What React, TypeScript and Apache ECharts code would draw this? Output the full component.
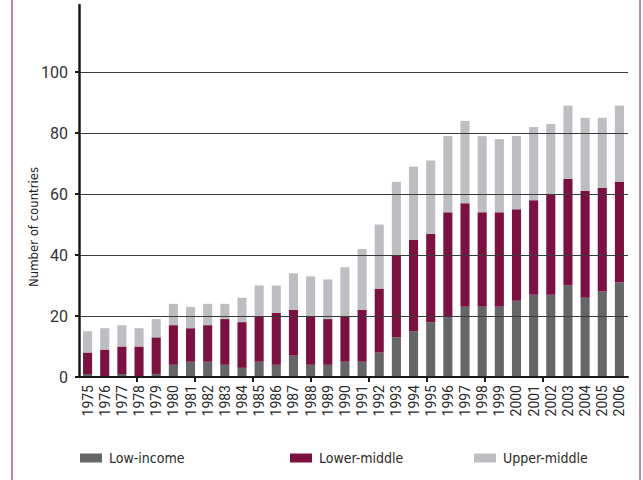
import React, { useEffect, useRef } from "react";
import * as echarts from "echarts";

const years = [
  "1975", "1976", "1977", "1978", "1979", "1980", "1981", "1982", "1983", "1984",
  "1985", "1986", "1987", "1988", "1989", "1990", "1991", "1992", "1993", "1994",
  "1995", "1996", "1997", "1998", "1999", "2000", "2001", "2002", "2003", "2004",
  "2005", "2006",
];
const lowIncome = [1, 0, 1, 0, 1, 4, 5, 5, 4, 3, 5, 4, 7, 4, 4, 5, 5, 8, 13, 15, 18, 20, 23, 23, 23, 25, 27, 27, 30, 26, 28, 31];
const lowerMiddle = [7, 9, 9, 10, 12, 13, 11, 12, 15, 15, 15, 17, 15, 16, 15, 15, 17, 21, 27, 30, 29, 34, 34, 31, 31, 30, 31, 33, 35, 35, 34, 33];
const upperMiddle = [7, 7, 7, 6, 6, 7, 7, 7, 5, 8, 10, 9, 12, 13, 13, 16, 20, 21, 24, 24, 24, 25, 27, 25, 24, 24, 24, 23, 24, 24, 23, 25];
const yTicks = [0, 20, 40, 60, 80, 100];
const xTickMarks = [10.565, 21.13, 31.695, 42.26, 52.825, 63.39, 73.955, 84.52];

const COND = '"Liberation Sans Narrow", "DejaVu Sans Condensed", sans-serif';

export default function App() {
  const ref = useRef<HTMLDivElement>(null);
  useEffect(() => {
    if (!ref.current) return;
    const chart = echarts.init(ref.current, null, { renderer: "svg" });
    const barCommon = { type: "bar", stack: "all", barCategoryGap: "47%", xAxisIndex: 0, yAxisIndex: 0 };
    chart.setOption({
      animation: false,
      backgroundColor: "#ffffff",
      grid: { left: 79, right: 15, top: 5, bottom: 103, containLabel: false },
      legend: [
        { data: ["Low-income"], left: 80, top: 451 },
        { data: ["Lower-middle"], left: 290, top: 451 },
        { data: ["Upper-middle"], left: 474, top: 451 },
      ].map((l) => ({
        ...l,
        padding: 0,
        icon: "rect",
        itemWidth: 22,
        itemHeight: 9,
        itemGap: 0,
        textStyle: { fontFamily: COND, fontSize: 14, color: "#2a2a2a", padding: [0, 0, 0, 2] },
      })),
      xAxis: [
        {
          type: "category",
          data: years,
          position: "bottom",
          z: 10,
          axisLine: { show: true, lineStyle: { color: "#1a1a1a", width: 2 } },
          axisTick: { show: false },
          axisLabel: {
            rotate: 90,
            interval: 0,
            margin: 8,
            fontFamily: "Roboto, sans-serif",
            fontSize: 14,
            color: "#2a2a2a",
          },
          splitLine: { show: false },
        },
        {
          type: "value",
          min: 0,
          max: 100,
          position: "bottom",
          offset: 0,
          z: 10,
          axisLine: { show: false },
          axisTick: { show: true, length: 5, customValues: xTickMarks, lineStyle: { color: "#1a1a1a", width: 2 } },
          axisLabel: { show: false },
          splitLine: { show: false },
        },
      ],
      yAxis: {
        type: "value",
        min: 0,
        max: 122,
        interval: 20,
        z: 10,
        axisLine: { show: true, lineStyle: { color: "#1a1a1a", width: 2.5 } },
        axisTick: { show: true, length: 4, customValues: yTicks, lineStyle: { color: "#1a1a1a", width: 2 } },
        axisLabel: {
          customValues: yTicks,
          margin: 11,
          fontFamily: "Roboto, sans-serif",
          fontSize: 16,
          color: "#333",
        },
        splitLine: { show: true, lineStyle: { color: "#3a3a3a", width: 1 } },
      },
      graphic: [
        { type: "line", shape: { x1: 12, y1: 0, x2: 12, y2: 480 }, style: { stroke: "#7b1241", lineWidth: 1 } },
        { type: "line", shape: { x1: 640, y1: 0, x2: 640, y2: 480 }, style: { stroke: "#7b1241", lineWidth: 1 } },
        {
          type: "text",
          x: 33,
          y: 227,
          rotation: Math.PI / 2,
          style: {
            text: "Number of countries",
            fontFamily: COND,
            fontSize: 13,
            fill: "#222",
            align: "center",
            verticalAlign: "middle",
          },
        },
      ],
      series: [
        { ...barCommon, name: "Low-income", data: lowIncome, itemStyle: { color: "#656667" } },
        { ...barCommon, name: "Lower-middle", data: lowerMiddle, itemStyle: { color: "#7a1140" } },
        { ...barCommon, name: "Upper-middle", data: upperMiddle, itemStyle: { color: "#bdbec1" } },
      ],
    });
    return () => chart.dispose();
  }, []);
  return <div ref={ref} style={{ width: 643, height: 480, position: "absolute", left: 0, top: 0 }} />;
}
